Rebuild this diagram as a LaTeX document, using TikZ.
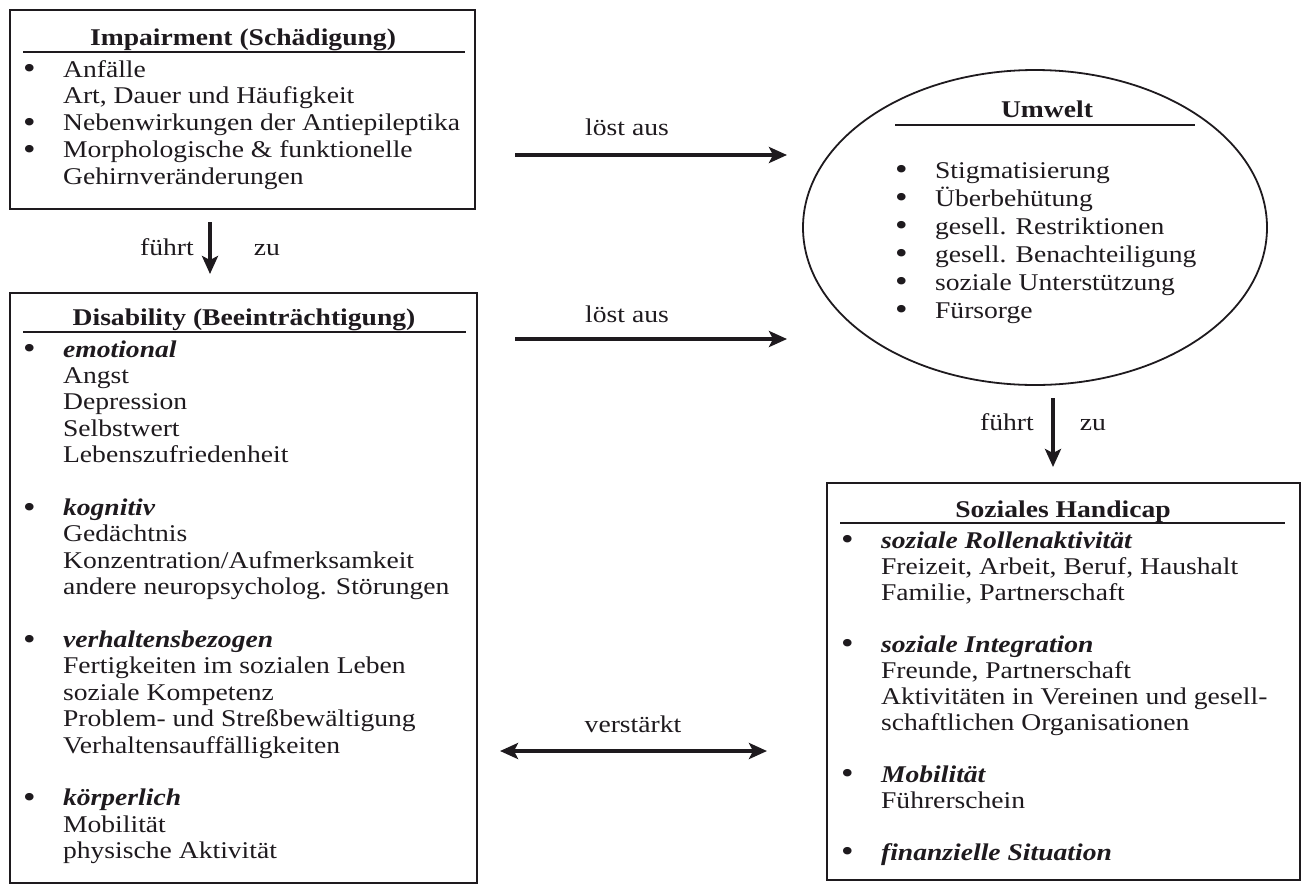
\documentclass[tikz,border=0pt]{standalone}
\usepackage{fontspec}
\setmainfont{Liberation Serif}[FakeStretch=1.15]
\usetikzlibrary{shapes.geometric,arrows.meta}
\definecolor{ink}{RGB}{30,26,30}
\newcommand{\bul}{\makebox[38.5pt][l]{\hspace*{-1.5pt}\raisebox{-1.5pt}{\scalebox{1.3}{\textbullet}}}}
\newcommand{\ind}{\hspace*{38.5pt}}
\newcommand{\bi}[1]{\textbf{\textit{#1}}}

\begin{document}
\begin{tikzpicture}[x=1pt,y=-1pt,
    every node/.style={font=\fontsize{24}{26.6}\selectfont, text=ink, inner sep=0pt}]
    \tikzstyle{box}=[draw=ink, line width=2.4pt, rectangle]
    \tikzstyle{oval}=[draw=ink, line width=1.8pt, ellipse]
    \tikzstyle{head}=[anchor=base, font=\fontsize{24}{26.6}\selectfont\bfseries]
    \tikzstyle{liste}=[anchor=north west, align=left]
    \tikzstyle{lbl}=[anchor=base]
    \tikzstyle{rule}=[draw=ink, line width=2pt]
    \tikzstyle{arr}=[draw=ink, line width=3.6pt, -{Stealth[length=18pt,width=16pt,inset=4pt]}]
    \tikzstyle{darr}=[draw=ink, line width=3.6pt, {Stealth[length=18pt,width=16pt,inset=4pt]}-{Stealth[length=18pt,width=16pt,inset=4pt]}]

    \useasboundingbox (0,0) rectangle (1305,887);

    % Impairment
    \node[box, minimum width=465pt, minimum height=199pt] (imp) at (242.5,109.5) {};
    \node[head] (imphead) at (243,45) {Impairment (Schädigung)};
    \draw[rule] (23,52) -- (465,52);
    \node[liste, font=\fontsize{24}{26.8}\selectfont] (implist) at (24.4,58.2) {\strut\bul Anfälle\\
        \ind Art, Dauer und Häufigkeit\\
        \bul Nebenwirkungen der Antiepileptika\\
        \bul Morphologische \& funktionelle\\
        \ind Gehirnveränderungen};

    % Disability
    \node[box, minimum width=467pt, minimum height=590pt] (dis) at (243.5,588) {};
    \node[head] (dishead) at (244,325) {Disability (Beeinträchtigung)};
    \draw[rule] (23,332) -- (466,332);
    \node[liste, font=\fontsize{24}{26.4}\selectfont] (dislist) at (24.4,338.5) {\strut\bul\bi{emotional}\\
        \ind Angst\\
        \ind Depression\\
        \ind Selbstwert\\
        \ind Lebenszufriedenheit\\[26.4pt]
        \bul\bi{kognitiv}\\
        \ind Gedächtnis\\
        \ind Konzentration/Aufmerksamkeit\\
        \ind andere neuropsycholog. Störungen\\[26.4pt]
        \bul\bi{verhaltensbezogen}\\
        \ind Fertigkeiten im sozialen Leben\\
        \ind soziale Kompetenz\\
        \ind Problem- und Streßbewältigung\\
        \ind Verhaltensauffälligkeiten\\[26.4pt]
        \bul\bi{körperlich}\\
        \ind Mobilität\\
        \ind physische Aktivität};

    % Umwelt
    \node[oval, minimum width=464pt, minimum height=315pt] (umw) at (1035,227.5) {};
    \node[head] (umwhead) at (1047,117) {Umwelt};
    \draw[rule] (895,125) -- (1195,125);
    \node[liste, font=\fontsize{24}{28}\selectfont] (umwlist) at (896.4,158.4) {\strut\bul Stigmatisierung\\
        \bul Überbehütung\\
        \bul gesell. Restriktionen\\
        \bul gesell. Benachteiligung\\
        \bul soziale Unterstützung\\
        \bul Fürsorge};

    % Soziales Handicap
    \node[box, minimum width=473pt, minimum height=397pt] (hand) at (1063.5,681.5) {};
    \node[head] (handhead) at (1063,517) {Soziales Handicap};
    \draw[rule] (840,523) -- (1285,523);
    \node[liste, font=\fontsize{24}{26}\selectfont] (handlist) at (842.4,529.8) {\strut\bul\bi{soziale Rollenaktivität}\\
        \ind Freizeit, Arbeit, Beruf, Haushalt\\
        \ind Familie, Partnerschaft\\[26pt]
        \bul\bi{soziale Integration}\\
        \ind Freunde, Partnerschaft\\
        \ind Aktivitäten in Vereinen und gesell-\\
        \ind schaftlichen Organisationen\\[26pt]
        \bul\bi{Mobilität}\\
        \ind Führerschein\\[26pt]
        \bul\bi{finanzielle Situation}};

    % Pfeile
    \coordinate (a1) at (515,155);
    \coordinate (b1) at (787,155);
    \draw[arr] (a1) -- (b1);
    \node[lbl] (l1) at (627,135) {löst aus};

    \coordinate (a2) at (515,339);
    \coordinate (b2) at (787,339);
    \draw[arr] (a2) -- (b2);
    \node[lbl] (l2) at (627,322) {löst aus};

    \coordinate (a3) at (210,222);
    \coordinate (b3) at (210,274);
    \draw[arr] (a3) -- (b3);
    \node[lbl] (f3) at (167,255) {führt};
    \node[lbl] (z3) at (267,255) {zu};

    \coordinate (a4) at (1053,398);
    \coordinate (b4) at (1053,467);
    \draw[arr] (a4) -- (b4);
    \node[lbl] (f4) at (1007,430) {führt};
    \node[lbl] (z4) at (1093,430) {zu};

    \coordinate (a5) at (500,751);
    \coordinate (b5) at (767,751);
    \draw[darr] (a5) -- (b5);
    \node[lbl] (l5) at (633,732) {verstärkt};
\end{tikzpicture}
\end{document}
